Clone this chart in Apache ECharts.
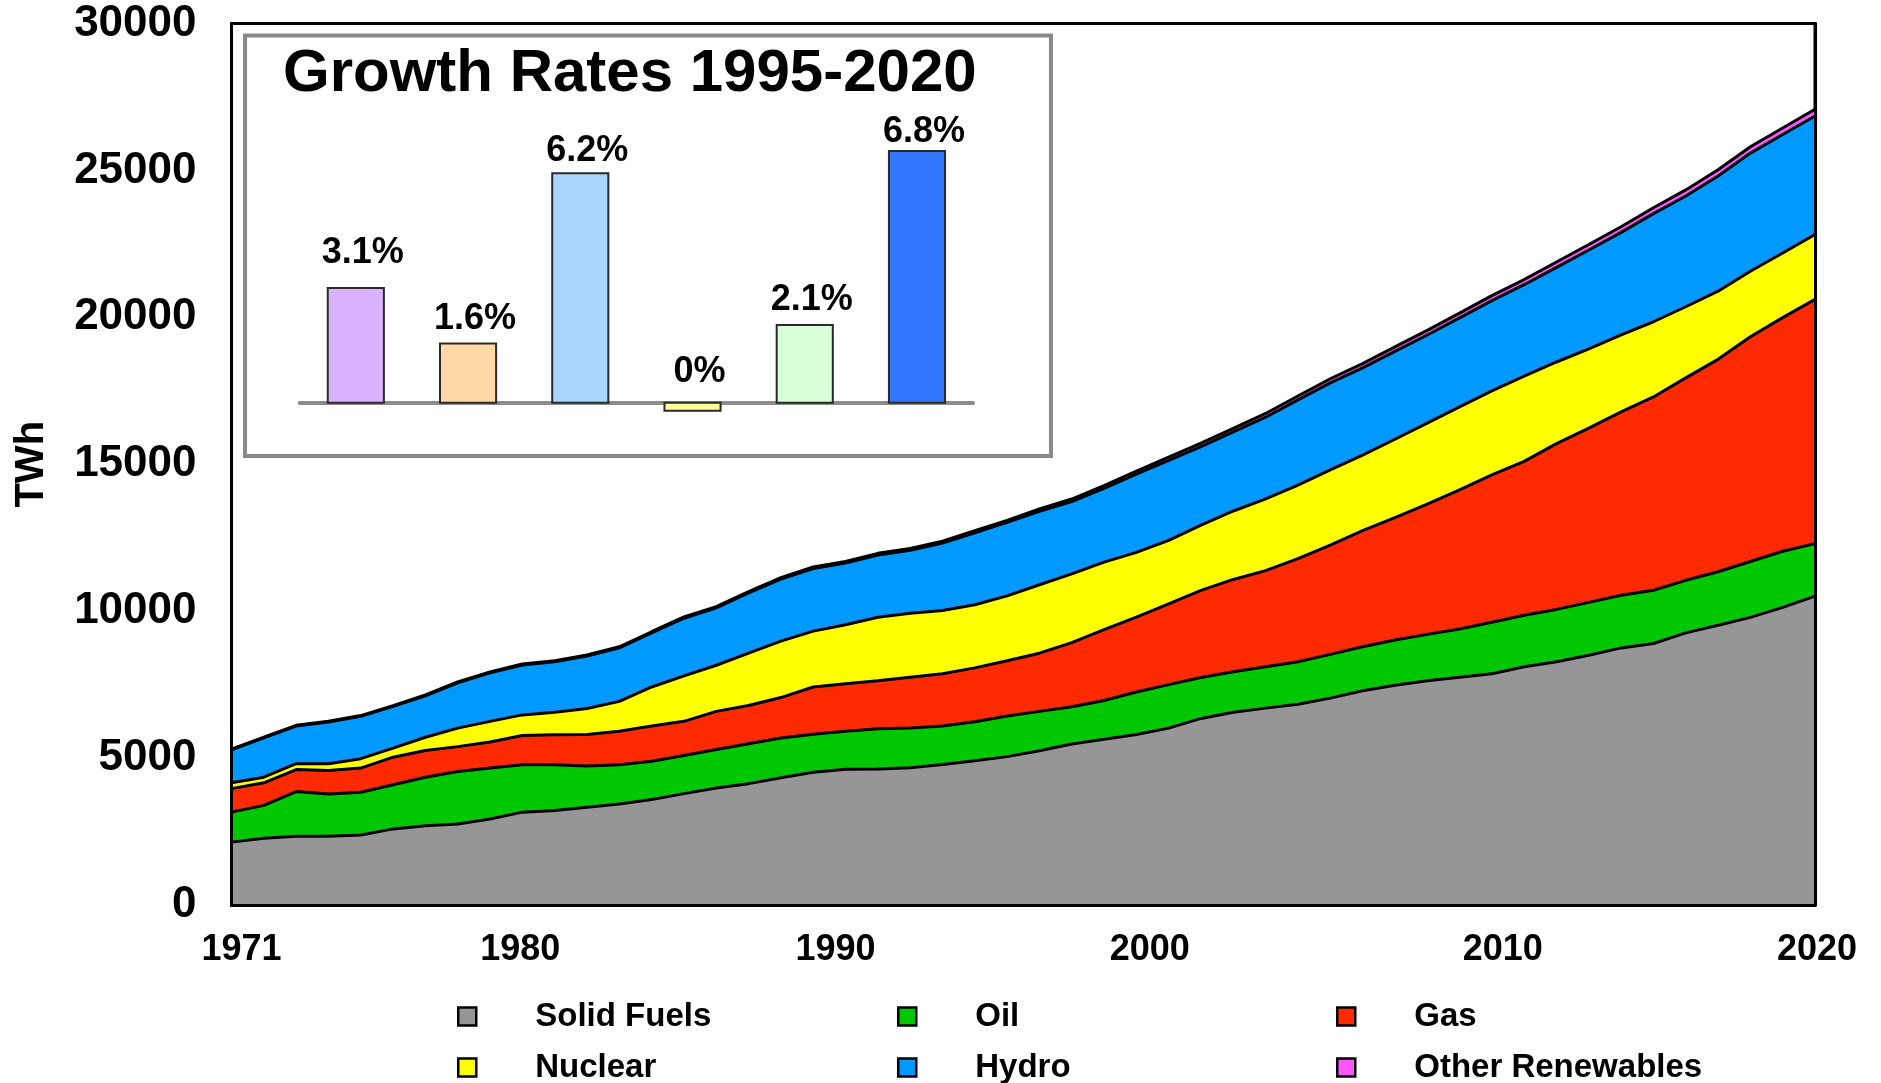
<!DOCTYPE html>
<html>
<head>
<meta charset="utf-8">
<title>World electricity generation by source</title>
<script src="https://cdn.jsdelivr.net/npm/echarts@6/dist/echarts.min.js"></script>
<style>
  html, body { margin: 0; padding: 0; background: #ffffff; }
  #chart { width: 1881px; height: 1083px; }
</style>
</head>
<body>
<div id="chart"></div>
<script>
// ---- data: electricity generation (TWh) by source, 1971-2020 ----
const years = [
  '1971','1972','1973','1974','1975','1976','1977','1978','1979','1980',
  '1981','1982','1983','1984','1985','1986','1987','1988','1989','1990',
  '1991','1992','1993','1994','1995','1996','1997','1998','1999','2000',
  '2001','2002','2003','2004','2005','2006','2007','2008','2009','2010',
  '2011','2012','2013','2014','2015','2016','2017','2018','2019','2020'
];
const yearTicks = ['1971', '1980', '1990', '2000', '2010', '2020'];

const solidFuels = [
  2140, 2270, 2340, 2340, 2380, 2590, 2700, 2760, 2930, 3160,
  3220, 3330, 3440, 3590, 3790, 3980, 4130, 4330, 4520, 4620,
  4630, 4670, 4780, 4910, 5050, 5250, 5480, 5640, 5800, 6020,
  6350, 6560, 6700, 6830, 7040, 7290, 7480, 7630, 7750, 7870,
  8110, 8280, 8500, 8750, 8900, 9260, 9520, 9790, 10130, 10510
];
const oil = [
  1020, 1120, 1520, 1440, 1460, 1500, 1650, 1780, 1730, 1610,
  1550, 1400, 1330, 1300, 1300, 1310, 1360, 1350, 1290, 1290,
  1370, 1350, 1310, 1330, 1380, 1340, 1270, 1320, 1450, 1480,
  1390, 1380, 1410, 1450, 1490, 1500, 1540, 1580, 1640, 1750,
  1750, 1780, 1800, 1790, 1810, 1790, 1820, 1900, 1910, 1790
];
const gas = [
  800, 770, 750, 800, 820, 940, 910, 850, 890, 1000,
  1020, 1070, 1140, 1200, 1160, 1300, 1300, 1380, 1610, 1620,
  1630, 1730, 1780, 1830, 1880, 1980, 2180, 2410, 2550, 2750,
  2970, 3140, 3270, 3510, 3720, 3950, 4160, 4430, 4740, 5020,
  5240, 5640, 5930, 6240, 6580, 6890, 7230, 7650, 7950, 8310
];
const nuclear = [
  200, 190, 200, 230, 320, 310, 450, 630, 700, 700,
  770, 890, 1020, 1330, 1550, 1570, 1780, 1920, 1900, 2010,
  2160, 2180, 2150, 2150, 2210, 2330, 2340, 2300, 2200, 2160,
  2220, 2330, 2440, 2500, 2560, 2570, 2670, 2760, 2820, 2860,
  2900, 2780, 2700, 2620, 2560, 2420, 2320, 2230, 2200, 2210
];
const hydro = [
  1120, 1340, 1280, 1420, 1440, 1420, 1410, 1540, 1650, 1700,
  1720, 1780, 1820, 1840, 1960, 1950, 2050, 2110, 2130, 2100,
  2120, 2140, 2300, 2450, 2500, 2500, 2460, 2510, 2660, 2720,
  2670, 2690, 2780, 2900, 2960, 2970, 2990, 3000, 3030, 3070,
  3110, 3220, 3360, 3490, 3680, 3770, 3920, 4020, 4030, 4030
];
const otherRenewables = [
  22, 22, 24, 24, 26, 27, 28, 30, 31, 33,
  35, 36, 38, 40, 42, 45, 47, 50, 52, 55,
  58, 60, 63, 66, 70, 78, 86, 94, 102, 110,
  116, 122, 128, 134, 140, 146, 152, 158, 164, 170,
  176, 182, 188, 194, 200, 206, 212, 218, 224, 230
];

// ---- data: average annual growth rates 1995-2020 (%) ----
const rateSources = ['Solid Fuels', 'Oil', 'Gas', 'Nuclear', 'Hydro', 'Other Renewables'];
const growthRates = [3.1, 1.6, 6.2, 0, 2.1, 6.8];

// ---- styling ----
const FONT = '"Liberation Sans", Arial, Helvetica, sans-serif';
const sourceNames = ['Solid Fuels', 'Oil', 'Gas', 'Nuclear', 'Hydro', 'Other Renewables'];
const sourceColors = ['#969696', '#00c800', '#ff2a00', '#ffff00', '#0099ff', '#ff55ff'];
const sourceSeries = [solidFuels, oil, gas, nuclear, hydro, otherRenewables];
const rateColors = ['#dab3ff', '#ffd8a8', '#aad5ff', '#ffff99', '#d8ffd8', '#3377ff'];
const rateLabelLift = [35, 24, 22, 31, 25, 19];   // label centre above bar top, px
// small horizontal nudges of the year labels, px (positive = right)
const yearLabelNudge = { '1971': 10, '1980': -2, '1990': -10, '2000': -19, '2010': 11, '2020': 2 };

// legend grid: three columns, two rows
const legendCols = [457, 897, 1336];
const legendRows = [1000, 1051];

const yearLabelRich = {};
yearTicks.forEach((y) => {
  const d = yearLabelNudge[y] || 0;
  yearLabelRich['y' + y] = {
    fontFamily: FONT, fontSize: 36, fontWeight: 'bold', color: '#000000',
    padding: d >= 0 ? [0, 0, 0, 2 * d] : [0, -2 * d, 0, 0]
  };
});

const chart = echarts.init(document.getElementById('chart'), null, { renderer: 'canvas' });

const areaSeries = sourceNames.map((name, k) => ({
  name: name,
  type: 'line',
  xAxisIndex: 0,
  yAxisIndex: 0,
  stack: 'generation',
  data: sourceSeries[k],
  color: sourceColors[k],
  symbol: 'none',
  smooth: false,
  z: 2,
  lineStyle: { color: '#000000', width: 3 },
  areaStyle: { color: sourceColors[k], opacity: 1 },
  emphasis: { disabled: true }
}));

const rateSeries = {
  name: 'Growth Rates 1995-2020',
  type: 'custom',
  xAxisIndex: 1,
  yAxisIndex: 1,
  z: 10,
  clip: false,
  data: growthRates.map((v, i) => [i, v]),
  encode: { x: 0, y: 1 },
  renderItem: function (params, api) {
    const i = params.dataIndex;
    const v = api.value(1);
    const top = api.coord([i, v]);
    const base = api.coord([i, 0]);
    const w = api.size([1, 0])[0] * 0.5;
    let y = Math.min(top[1], base[1]);
    let h = Math.abs(base[1] - top[1]);
    // a zero rate is still marked with a thin stub just under the axis
    if (h < 1) { y = base[1]; h = 8; }
    return {
      type: 'group',
      children: [
        {
          type: 'rect',
          shape: { x: base[0] - w / 2, y: y, width: w, height: h },
          style: { fill: rateColors[i], stroke: '#2a2a2a', lineWidth: 2 }
        },
        {
          type: 'text',
          style: {
            text: v + '%',
            x: base[0] + 7,
            y: Math.min(top[1], base[1]) - rateLabelLift[i],
            align: 'center', verticalAlign: 'middle',
            textAlign: 'center', textVerticalAlign: 'middle',
            font: 'bold 36px ' + FONT,
            fill: '#000000'
          }
        }
      ]
    };
  }
};

const legends = sourceNames.map((name, k) => ({
  data: [{ name: name, itemStyle: { color: sourceColors[k], borderColor: '#000000', borderWidth: 2.5 } }],
  left: legendCols[k % 3],
  top: legendRows[Math.floor(k / 3)],
  orient: 'horizontal',
  padding: 0,
  icon: 'rect',
  itemWidth: 18,
  itemHeight: 18,
  selectedMode: false,
  textStyle: {
    fontFamily: FONT, fontSize: 33, fontWeight: 'bold', color: '#000000',
    lineHeight: 18, padding: [0, 0, 0, 54]
  }
}));

const option = {
  animation: false,
  backgroundColor: '#ffffff',
  textStyle: { fontFamily: FONT },
  grid: [
    {
      left: 231.5, right: 66, top: 23.5, bottom: 178,
      show: true, borderColor: '#000000', borderWidth: 3, backgroundColor: '#ffffff',
      outerBoundsMode: 'none', containLabel: false
    },
    {
      left: 299.7, top: 143.7, width: 673.4, height: 296,
      outerBoundsMode: 'none', containLabel: false
    }
  ],
  xAxis: [
    {
      type: 'category', gridIndex: 0, data: years, boundaryGap: false, z: 5,
      axisLine: { show: true, onZero: false, lineStyle: { color: '#000000', width: 3 } },
      axisTick: { show: false },
      splitLine: { show: false },
      axisLabel: {
        interval: (idx, val) => yearTicks.indexOf(val) >= 0,
        formatter: (val) => '{y' + val + '|' + val + '}',
        rich: yearLabelRich,
        fontFamily: FONT, fontSize: 36, fontWeight: 'bold', color: '#000000', margin: 27
      }
    },
    {
      type: 'category', gridIndex: 1, data: rateSources, z: 5,
      axisLine: { show: true, onZero: true, lineStyle: { color: '#8c8c8c', width: 4 } },
      axisTick: { show: false },
      axisLabel: { show: false },
      splitLine: { show: false }
    }
  ],
  yAxis: [
    {
      type: 'value', gridIndex: 0, min: 0, max: 30000, interval: 5000, z: 5,
      axisLine: { show: true, lineStyle: { color: '#000000', width: 3 } },
      axisTick: { show: false },
      splitLine: { show: false },
      axisLabel: {
        formatter: (v) => String(v),
        fontFamily: FONT, fontSize: 44, fontWeight: 'bold', color: '#000000', margin: 35
      },
      name: 'TWh', nameLocation: 'middle', nameGap: 180,
      nameTextStyle: { fontFamily: FONT, fontSize: 40, fontWeight: 'bold', color: '#000000' }
    },
    {
      type: 'value', gridIndex: 1, min: -1, max: 7, show: false
    },
    {
      type: 'value', gridIndex: 0, position: 'right', min: 0, max: 30000, interval: 5000, z: 5,
      axisLine: { show: true, lineStyle: { color: '#000000', width: 3 } },
      axisTick: { show: false },
      axisLabel: { show: false },
      splitLine: { show: false }
    }
  ],
  legend: legends,
  graphic: [
    {
      type: 'rect', z: 1,
      shape: { x: 245, y: 35.5, width: 806, height: 420.5 },
      style: { fill: '#ffffff', stroke: '#8a8a8a', lineWidth: 4 }
    },
    {
      type: 'text', z: 1, x: 283, y: 74,
      style: {
        text: 'Growth Rates 1995-2020',
        font: 'bold 60px ' + FONT,
        fill: '#000000',
        align: 'left', verticalAlign: 'middle',
        textAlign: 'left', textVerticalAlign: 'middle'
      }
    }
  ],
  series: areaSeries.concat([rateSeries])
};

chart.setOption(option);
</script>
</body>
</html>
